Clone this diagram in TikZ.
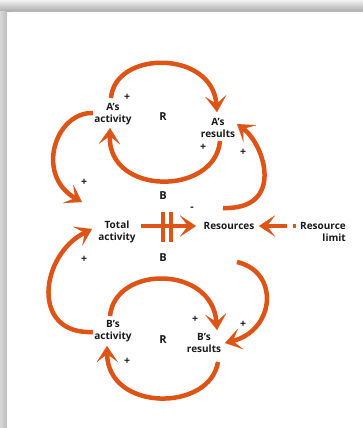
\documentclass[tikz,border=0pt]{standalone}
\usepackage{fontspec}
\setmainfont{Open Sans}
\usetikzlibrary{arrows.meta}
\definecolor{loopc}{RGB}{222,84,22}
\definecolor{ink}{RGB}{26,26,26}
\begin{document}
\begin{tikzpicture}[x=1pt,y=-1pt,
  lbl/.style={font=\bfseries\fontsize{10}{12}\selectfont, text=ink, align=center, inner sep=0pt},
  polar/.style={font=\bfseries\fontsize{10.5}{10.5}\selectfont, text=ink, inner sep=0pt},
  looptag/.style={font=\bfseries\fontsize{11}{11}\selectfont, text=ink, inner sep=0pt},
  link/.style={draw=loopc, line width=4.5pt,
    -{Stealth[length=16pt,width=21pt,inset=8pt,line width=0.01pt]}},
  bar/.style={draw=loopc, line width=4.5pt},
]
\useasboundingbox (0,0) rectangle (363,428);
% card with its soft shadow
\begin{scope}
  \clip (0,0) rectangle (363,428);
  \shade[top color={rgb,255:red,242;green,242;blue,242}, bottom color={rgb,255:red,168;green,168;blue,168}]
    (0,0) rectangle (363,12);
  \shade[left color={rgb,255:red,216;green,216;blue,216}, right color={rgb,255:red,188;green,188;blue,188}]
    (0,12) rectangle (7,428);
  \fill[white, rounded corners=6pt] (7,12) rectangle (420,480);
\end{scope}

% variables
\node[lbl] (aact) at (113,114) {A’s\\activity};
\node[lbl] (ares) at (218,128) {A’s\\results};
\node[lbl] (tot)  at (117,232) {Total\\activity};
\node[lbl] (res)  at (229,226) {Resources};
\node[lbl, align=right, anchor=east] (lim) at (346,232) {Resource\\limit};
\node[lbl] (bact) at (113,331) {B’s\\activity};
\node[lbl] (bres) at (204,342.5) {B’s\\results};

% loop types
\node[looptag] (ra) at (163,117) {R};
\node[looptag] (ba) at (163,196) {B};
\node[looptag] (bb) at (163,258) {B};
\node[looptag] (rb) at (163,340) {R};

% link polarities
\node[polar] (p1) at (127,97) {+};
\node[polar] (p2) at (203,147) {+};
\node[polar] (p3) at (243,152) {+};
\node[polar] (p4) at (84,182) {+};
\node[polar] (p5) at (192,209) {-};
\node[polar] (p6) at (84,259) {+};
\node[polar] (p7) at (195,319) {+};
\node[polar] (p8) at (243,324) {+};
\node[polar] (p9) at (127,361) {+};

% reinforcing loop A
\draw[link] ([shift={(-2,-16)}]aact.center) .. controls (115,50) and (212,50) .. ([shift={(-1,-16)}]ares.center);
\draw[link] ([shift={(2,13)}]ares.center) .. controls (215,196) and (108,196) .. ([shift={(-3,14)}]aact.center);
% reinforcing loop B
\draw[link] ([shift={(-3,-15)}]bact.center) .. controls (115,265) and (212,265) .. ([shift={(13,-12.5)}]bres.center);
\draw[link] ([shift={(14,19.5)}]bres.center) .. controls (210,412) and (108,412) .. ([shift={(-6,15)}]bact.center);
% activities feed total activity
\draw[link] ([shift={(-20,-1)}]aact.center) .. controls (55,112) and (35,175) .. ([shift={(-35,-30)}]tot.center);
\draw[link] ([shift={(-20,1)}]bact.center) .. controls (30,335) and (40,255) .. ([shift={(-25,-3)}]tot.center);
% resources feed results
\draw[link] ([shift={(-6,-18)}]res.center) .. controls (285,210) and (265,145) .. ([shift={(19,-4)}]ares.center);
\draw[link] ([shift={(8,36)}]res.center) .. controls (280,272) and (275,330) .. ([shift={(21,0.5)}]bres.center);
% total activity uses resources, with delay
\draw[link] ([shift={(24,-6)}]tot.center) -- ([shift={(-33,0)}]res.center);
\draw[bar] ([shift={(46,-20)}]tot.center) -- ++(0,30)
           ([shift={(54,-20)}]tot.center) -- ++(0,30);
% resource limit
\draw[link] ([shift={(-59,-6)}]lim.east) -- ([shift={(30,0)}]res.center);
\draw[bar] ([shift={(-50,-6)}]lim.east) -- ++(-3,0);
\end{tikzpicture}
\end{document}
